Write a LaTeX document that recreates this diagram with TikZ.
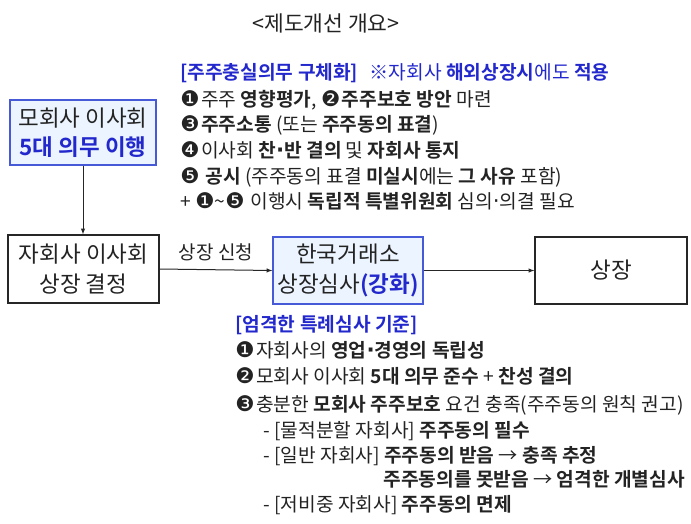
\documentclass[tikz,border=0pt]{standalone}
\usepackage{fontspec}
\setmainfont{Noto Sans CJK KR}[BoldFont={Noto Sans CJK KR Bold}]
\newfontfamily\symfont{DejaVu Sans}[Scale=1.12]
\usepackage{xcolor}
\usetikzlibrary{arrows}
\definecolor{hdrblue}{RGB}{35,40,205}
\definecolor{boxblue}{RGB}{70,90,215}
\definecolor{boxfill}{RGB}{236,245,255}
\definecolor{txtgray}{RGB}{35,35,35}
\newcommand{\cnum}[1]{{\symfont #1}\hspace{0.08em}}
\newcommand{\mdot}{{\symfont ·}}

\begin{document}
\begin{tikzpicture}[x=1pt, y=-1pt, thick,
  plainbox/.style={draw=black!85, fill=white, line width=1.3pt, inner sep=0pt,
    align=center, text=txtgray, font=\fontsize{22.5}{29.5}\selectfont},
  bluebox/.style={plainbox, draw=boxblue, fill=boxfill},
  linetext/.style={anchor=west, inner sep=0pt, text height=14pt, text depth=5pt,
    text=txtgray, font=\fontsize{19.2}{22}\selectfont},
  hdrtext/.style={linetext, text=hdrblue},
  link/.style={-latex, line width=1pt, black!85}]
\useasboundingbox (0,0) rectangle (691,523);
%%%%% Title %%%%%
\node[text=txtgray, font=\fontsize{21.5}{24}\selectfont] (title) at (326,23) {<제도개선 개요>};
%%%%% Boxes %%%%%
\node[bluebox, minimum width=146pt, minimum height=65pt] (parent) at (83,132.5)
  {모회사 이사회\\\textcolor{hdrblue}{\bfseries 5대 의무 이행}};
\node[plainbox, minimum width=151pt, minimum height=68pt] (child) at (83.5,269)
  {자회사 이사회\\상장 결정};
\node[bluebox, minimum width=150pt, minimum height=67pt] (krx) at (348,270.5)
  {한국거래소\\상장심사\textcolor{hdrblue}{\bfseries(강화)}};
\node[plainbox, minimum width=152pt, minimum height=67pt] (listing) at (611,270.5)
  {상장};
%%%%% Arrows %%%%%
\draw[link] (parent.south) -- (parent.south |- child.north);
\draw[link] (child.east) -- node[above=5pt, text=txtgray, font=\fontsize{19}{22}\selectfont] {상장 신청} (krx.west);
\draw[link] (krx.east) -- (listing.west);
%%%%% Upper text %%%%%
\node[hdrtext] (u0) at (180,75) {\textbf{[주주충실의무 구체화]}\hspace{0.6em}※자회사 \textbf{해외상장시}에도 \textbf{적용}};
\node[linetext] (u1) at (180,102) {\cnum{❶}주주 \textbf{영향평가}, \cnum{❷}\textbf{주주보호 방안} 마련};
\node[linetext] (u2) at (180,127) {\cnum{❸}\textbf{주주소통} (또는 \textbf{주주동의 표결})};
\node[linetext] (u3) at (180,153) {\cnum{❹}이사회 \textbf{찬\mdot 반 결의} 및 \textbf{자회사 통지}};
\node[linetext] (u4) at (180,179) {\cnum{❺} \textbf{공시} (주주동의 표결 \textbf{미실시}에는 \textbf{그 사유} 포함)};
\node[linetext] (u5) at (180,204) {+ {\symfont ❶}\textasciitilde\cnum{❺} 이행시 \textbf{독립적 특별위원회} 심의\mdot 의결 필요};
%%%%% Lower text %%%%%
\node[hdrtext] (l0) at (235,327) {\textbf{[엄격한 특례심사 기준]}};
\node[linetext] (l1) at (235,353) {\cnum{❶}자회사의 \textbf{영업\mdot 경영의 독립성}};
\node[linetext] (l2) at (235,379) {\cnum{❷}모회사 이사회 \textbf{5대 의무 준수} + \textbf{찬성 결의}};
\node[linetext] (l3) at (235,407) {\cnum{❸}충분한 \textbf{모회사 주주보호} 요건 충족(주주동의 원칙 권고)};
\node[linetext] (l4) at (263,433) {- [물적분할 자회사] \textbf{주주동의 필수}};
\node[linetext] (l5) at (263,458) {- [일반 자회사] \textbf{주주동의 받음} → \textbf{충족 추정}};
\node[linetext] (l6) at (383,482) {\textbf{주주동의를 못받음} → \textbf{엄격한 개별심사}};
\node[linetext] (l7) at (263,507) {- [저비중 자회사] \textbf{주주동의 면제}};
\end{tikzpicture}
\end{document}
